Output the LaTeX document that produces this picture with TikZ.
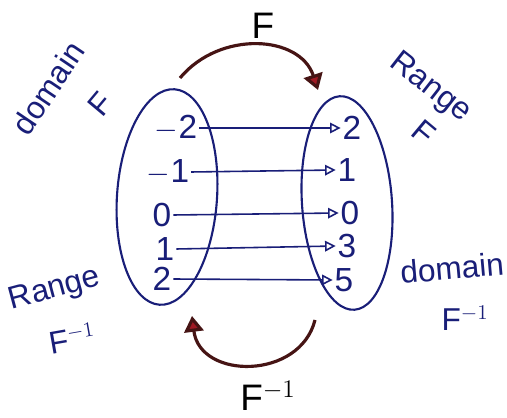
\documentclass[tikz,border=0pt]{standalone}
\usepackage{fontspec}
\setmainfont{Liberation Sans}
\usetikzlibrary{arrows.meta}
\definecolor{ink}{RGB}{25,30,120}
\definecolor{brown}{RGB}{70,20,20}
\definecolor{tipred}{RGB}{160,25,35}
\tikzset{
  x=0.02cm,y=-0.02cm,
  setring/.style={draw=ink,line width=1.2pt},
  val/.style={text=ink,font=\fontsize{19}{21}\selectfont,inner sep=1pt},
  lab/.style={text=ink,font=\fontsize{18}{20}\selectfont,inner sep=0pt},
  maplink/.style={draw=ink,line width=0.9pt,-{Triangle[open,length=6pt,width=6pt]}},
  bigarrow/.style={draw=brown,line width=1.8pt,-{Triangle[length=9pt,width=11pt,fill=tipred]}},
}
\begin{document}
\begin{tikzpicture}
\useasboundingbox (0,0) rectangle (507,418);
\fill[white] (0,0) rectangle (507,418);
% ellipses
\draw[setring,rotate around={-4:(167,197)}] (167,197) ellipse [x radius=50, y radius=108];
\draw[setring,rotate around={4:(347,203)}] (347,203) ellipse [x radius=45, y radius=107];
% left values
\node[val] (a1) at (176,128) {$-$2};
\node[val] (a2) at (168,172) {$-$1};
\node[val] (a3) at (162,215) {0};
\node[val] (a4) at (165,249) {1};
\node[val] (a5) at (162,279) {2};
% right values
\node[val] (b1) at (352,128) {2};
\node[val] (b2) at (347,170) {1};
\node[val] (b3) at (350,213) {0};
\node[val] (b4) at (347,246) {3};
\node[val] (b5) at (344,280) {5};
% map arrows
\draw[maplink] (a1.east) -- (b1.west);
\draw[maplink] (a2.east) -- (b2.west);
\draw[maplink] (a3.east) -- (b3.west);
\draw[maplink] (a4.east) -- (b4.west);
\draw[maplink] (a5.east) -- (b5.west);
% big arrows
\coordinate (ts) at (180,78);
\coordinate (te) at (318,90);
\draw[bigarrow] (ts) .. controls (220,30) and (300,35) .. (te);
\coordinate (bs) at (315,320);
\coordinate (be) at (192,316);
\draw[bigarrow] (bs) .. controls (300,380) and (200,380) .. (be);
% labels
\node[text=black,font=\fontsize{21}{23}\selectfont] (fl) at (263,26) {F};
\node[text=black,font=\fontsize{21}{23}\selectfont,inner sep=0pt] (fil) at (268,396) {F$^{-1}$};
\node[lab,rotate=56] (d1) at (48,88) {domain};
\node[lab,rotate=50] (d1f) at (100,104) {F};
\node[lab,rotate=-38] (r1) at (430,88) {Range};
\node[lab,rotate=-40] (r1f) at (424,132) {F};
\node[lab,rotate=15] (r2) at (55,290) {Range};
\node[lab,rotate=10] (r2f) at (72,338) {F$^{-1}$};
\node[lab,rotate=5] (d2) at (452,268) {domain};
\node[lab] (d2f) at (465,318) {F$^{-1}$};
\end{tikzpicture}
\end{document}
